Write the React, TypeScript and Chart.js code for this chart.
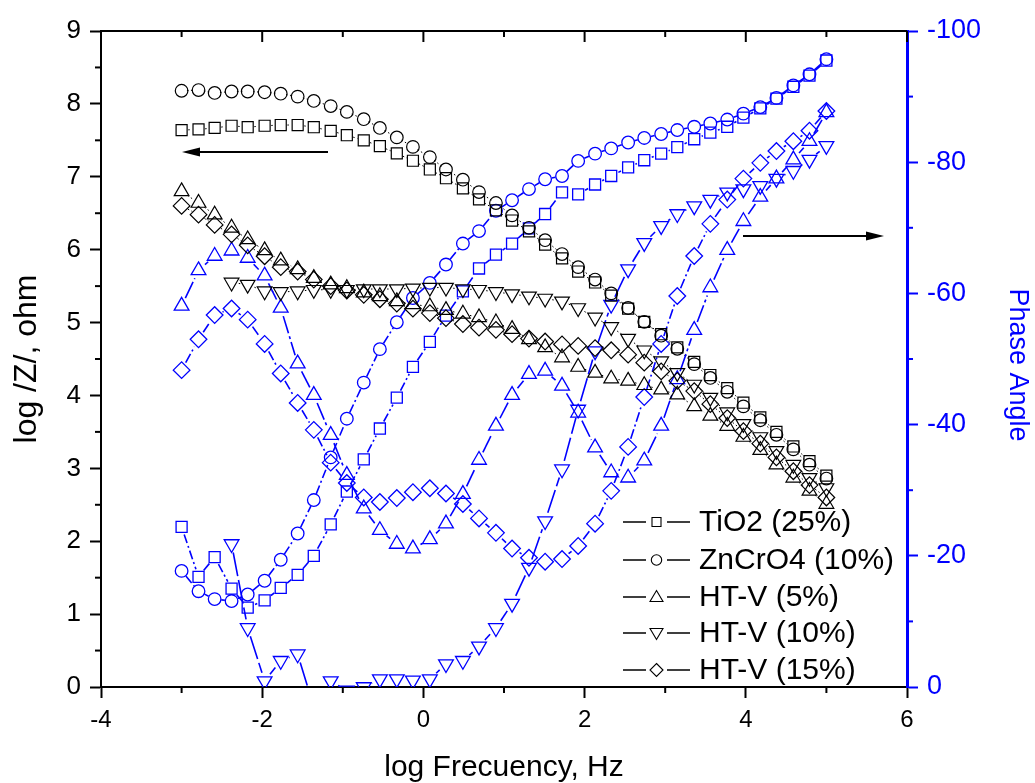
import React, { useEffect, useRef } from 'react';
import { Chart, registerables } from 'chart.js';
Chart.register(...registerables);

const FONT = 'Arial, "Liberation Sans", Helvetica, sans-serif';
const BLUE = '#0000ff';

// log frequency (decades), 40 points
const logFreq = [-3.00, -2.79, -2.59, -2.38, -2.18, -1.97, -1.77, -1.56, -1.36, -1.15,
  -0.95, -0.74, -0.54, -0.33, -0.13, 0.08, 0.28, 0.49, 0.69, 0.90,
  1.10, 1.31, 1.51, 1.72, 1.92, 2.13, 2.33, 2.54, 2.74, 2.95,
  3.15, 3.36, 3.56, 3.77, 3.97, 4.18, 4.38, 4.59, 4.79, 5.00];

// log |Z| (ohm)
const tio2Z = [7.64, 7.65, 7.67, 7.70, 7.68, 7.70, 7.71, 7.71, 7.68, 7.63,
  7.57, 7.50, 7.42, 7.32, 7.22, 7.10, 6.98, 6.84, 6.69, 6.54,
  6.40, 6.25, 6.07, 5.88, 5.70, 5.55, 5.37, 5.19, 5.01, 4.84,
  4.66, 4.46, 4.28, 4.10, 3.90, 3.70, 3.50, 3.30, 3.10, 2.90];
const zncro4Z = [8.18, 8.19, 8.15, 8.17, 8.17, 8.16, 8.14, 8.10, 8.04, 7.97,
  7.89, 7.79, 7.67, 7.54, 7.41, 7.27, 7.10, 6.96, 6.79, 6.64,
  6.47, 6.30, 6.13, 5.94, 5.76, 5.59, 5.40, 5.20, 5.01, 4.82,
  4.64, 4.43, 4.24, 4.05, 3.85, 3.66, 3.46, 3.26, 3.05, 2.86];
const htv5Z = [6.80, 6.64, 6.48, 6.30, 6.14, 5.99, 5.85, 5.73, 5.61, 5.52,
  5.47, 5.41, 5.36, 5.29, 5.25, 5.22, 5.17, 5.12, 5.07, 5.00,
  4.91, 4.77, 4.66, 4.52, 4.39, 4.31, 4.23, 4.20, 4.14, 4.08,
  4.01, 3.85, 3.72, 3.58, 3.43, 3.25, 3.05, 2.87, 2.69, 2.51];
const htv10Z = [null, null, null, 5.55, 5.52, 5.43, 5.42, 5.43, 5.45, 5.45,
  5.45, 5.46, 5.46, 5.46, 5.47, 5.48, 5.48, 5.46, 5.45, 5.42,
  5.39, 5.36, 5.33, 5.29, 5.20, 5.07, 4.94, 4.78, 4.62, 4.47,
  4.31, 4.15, 3.97, 3.77, 3.61, 3.43, 3.24, 3.05, 2.87, 2.73];
const htv15Z = [6.60, 6.48, 6.34, 6.21, 6.06, 5.91, 5.76, 5.70, 5.59, 5.50,
  5.44, 5.38, 5.32, 5.26, 5.19, 5.13, 5.06, 4.98, 4.93, 4.90,
  4.84, 4.78, 4.74, 4.70, 4.68, 4.65, 4.62, 4.56, 4.45, 4.33,
  4.20, 4.06, 3.88, 3.69, 3.51, 3.34, 3.15, 2.96, 2.77, 2.60];

// phase angle (degrees)
const tio2Phase = [-24.4, -16.8, -19.8, -15.0, -12.1, -13.2, -15.1, -17.1, -20.0, -24.8,
  -29.8, -34.7, -39.4, -44.1, -48.8, -52.6, -56.6, -60.3, -63.8, -65.9,
  -67.6, -69.9, -72.1, -75.4, -75.1, -76.6, -77.9, -79.2, -80.3, -81.3,
  -82.3, -83.5, -84.5, -85.4, -86.8, -88.2, -89.7, -91.5, -93.2, -95.5];
const zncro4Phase = [-17.7, -14.6, -13.4, -13.1, -14.1, -16.2, -19.4, -23.4, -28.5, -35.0,
  -40.9, -46.4, -51.5, -55.6, -59.3, -61.6, -64.4, -67.6, -69.5, -72.6,
  -74.2, -75.9, -77.4, -77.9, -80.2, -81.3, -82.1, -83.0, -83.7, -84.3,
  -84.9, -85.4, -85.9, -86.5, -87.4, -88.4, -89.8, -91.7, -93.4, -95.7];
const htv5Phase = [-58.1, -63.5, -65.7, -66.5, -65.4, -62.7, -57.8, -49.3, -44.5, -38.4,
  -32.3, -27.2, -23.9, -21.8, -21.1, -22.5, -24.9, -29.4, -34.6, -39.8,
  -44.5, -47.7, -48.2, -45.9, -41.8, -36.5, -32.7, -31.9, -34.5, -39.8,
  -46.9, -54.4, -60.9, -66.6, -71.0, -74.7, -77.5, -80.4, -83.2, -87.6];
const htv10Phase = [null, null, null, -21.8, -9.0, -0.9, -4.0, -5.0, 3.0, -0.9,
  0.5, 0.0, -1.2, -1.2, -1.0, -1.2, -3.5, -4.0, -6.2, -9.0,
  -12.7, -18.2, -25.3, -33.2, -42.3, -51.2, -58.3, -63.7, -67.7, -70.3,
  -72.1, -73.3, -74.3, -75.4, -75.9, -76.4, -77.5, -78.7, -80.4, -82.5];
const htv15Phase = [-48.3, -53.0, -56.7, -57.7, -56.0, -52.3, -47.8, -43.3, -39.2, -34.2,
  -31.1, -28.9, -28.2, -28.8, -29.7, -30.3, -29.5, -27.9, -25.7, -23.5,
  -21.1, -19.7, -19.1, -19.5, -21.5, -24.9, -29.9, -36.6, -44.2, -52.3,
  -59.6, -65.7, -70.6, -74.3, -77.5, -79.9, -81.7, -83.2, -84.8, -87.8];

const seriesLabels = ['TiO2 (25%)', 'ZnCrO4 (10%)', 'HT-V (5%)', 'HT-V (10%)', 'HT-V (15%)'];
const xTitle = 'log Frecuency, Hz';
const yTitle = 'log /Z/, ohm';
const y2Title = 'Phase Angle';

const markers = [
  { style: 'rect', rot: 0, r: 7.8 },
  { style: 'circle', rot: 0, r: 6.3 },
  { style: 'triangle', rot: 0, r: 8.5 },
  { style: 'triangle', rot: 180, r: 8.5 },
  { style: 'rectRot', rot: 0, r: 8.3 },
];
const blueDash = [[9, 3, 2, 3], [9, 3, 2, 3], [18, 3, 3, 3], [24, 4], [10, 3, 2, 3]];

// per-dataset connecting line styles (index = dataset index)
const lineStyles: { color: string; width: number; dash: number[]; gap: number }[] = [];

function pts(vals: (number | null)[]) {
  return logFreq.map((f, i) => ({ x: f, y: vals[i] }));
}

function drawLegendMarker(ctx: CanvasRenderingContext2D, kind: number, x: number, y: number) {
  ctx.beginPath();
  if (kind === 0) {
    ctx.rect(x - 4.5, y - 4.5, 9, 9);
  } else if (kind === 1) {
    ctx.arc(x, y, 5.2, 0, Math.PI * 2);
  } else if (kind === 2) {
    ctx.moveTo(x, y - 6.5); ctx.lineTo(x + 6.5, y + 4.5); ctx.lineTo(x - 6.5, y + 4.5); ctx.closePath();
  } else if (kind === 3) {
    ctx.moveTo(x, y + 6.5); ctx.lineTo(x + 6.5, y - 4.5); ctx.lineTo(x - 6.5, y - 4.5); ctx.closePath();
  } else {
    ctx.moveTo(x, y - 6.5); ctx.lineTo(x + 6.5, y); ctx.lineTo(x, y + 6.5); ctx.lineTo(x - 6.5, y); ctx.closePath();
  }
  ctx.stroke();
}

function arrow(ctx: CanvasRenderingContext2D, x1: number, x2: number, y: number) {
  const dir = Math.sign(x2 - x1);
  ctx.beginPath();
  ctx.moveTo(x1, y);
  ctx.lineTo(x2 - dir * 14, y);
  ctx.stroke();
  ctx.beginPath();
  ctx.moveTo(x2, y);
  ctx.lineTo(x2 - dir * 18, y - 4.5);
  ctx.lineTo(x2 - dir * 18, y + 4.5);
  ctx.closePath();
  ctx.fill();
}

// Connecting lines that stop short of the symbols (Origin style)
const gapLines = {
  id: 'gapLines',
  beforeDatasetsDraw(chart: any) {
    const ctx = chart.ctx as CanvasRenderingContext2D;
    const a = chart.chartArea;
    ctx.save();
    ctx.beginPath();
    ctx.rect(a.left, a.top, a.right - a.left, a.bottom - a.top);
    ctx.clip();
    chart.data.datasets.forEach((_ds: any, di: number) => {
      const st = lineStyles[di];
      const els = chart.getDatasetMeta(di).data;
      ctx.strokeStyle = st.color;
      ctx.lineWidth = st.width;
      ctx.setLineDash(st.dash);
      for (let i = 0; i < els.length - 1; i++) {
        const p = els[i], q = els[i + 1];
        if (p.skip || q.skip) continue;
        const dx = q.x - p.x, dy = q.y - p.y;
        const L = Math.hypot(dx, dy);
        if (L <= 2 * st.gap + 0.5) continue;
        const ux = dx / L, uy = dy / L;
        ctx.lineDashOffset = 0;
        ctx.beginPath();
        ctx.moveTo(p.x + ux * st.gap, p.y + uy * st.gap);
        ctx.lineTo(q.x - ux * st.gap, q.y - uy * st.gap);
        ctx.stroke();
      }
    });
    ctx.restore();
  },
};

const overlay = {
  id: 'overlay',
  afterDraw(chart: any) {
    const ctx = chart.ctx as CanvasRenderingContext2D;
    const { left, right, top, bottom } = chart.chartArea;
    const xs = chart.scales.x, ys = chart.scales.y, y2 = chart.scales.y2;
    ctx.save();
    ctx.setLineDash([]);
    // top frame line
    ctx.strokeStyle = '#000';
    ctx.lineWidth = 2;
    ctx.beginPath();
    ctx.moveTo(left - 1, top);
    ctx.lineTo(right, top);
    ctx.stroke();
    // top inward ticks & bottom minor ticks
    for (let v = -4; v <= 6; v++) {
      const px = xs.getPixelForValue(v);
      const major = v % 2 === 0;
      ctx.beginPath();
      ctx.moveTo(px, top);
      ctx.lineTo(px, top + (major ? 11 : 6));
      ctx.stroke();
      if (!major) {
        ctx.beginPath();
        ctx.moveTo(px, bottom);
        ctx.lineTo(px, bottom + 6);
        ctx.stroke();
      }
    }
    // left minor ticks
    for (let v = 0.5; v < 9; v += 1) {
      const py = ys.getPixelForValue(v);
      ctx.beginPath();
      ctx.moveTo(left, py);
      ctx.lineTo(left - 6, py);
      ctx.stroke();
    }
    // right minor ticks
    ctx.strokeStyle = BLUE;
    for (let v = -90; v < 0; v += 20) {
      const py = y2.getPixelForValue(v);
      ctx.beginPath();
      ctx.moveTo(right, py);
      ctx.lineTo(right + 6, py);
      ctx.stroke();
    }
    // arrows
    ctx.strokeStyle = '#000';
    ctx.fillStyle = '#000';
    ctx.lineWidth = 2;
    arrow(ctx, 328, 182, 152);
    arrow(ctx, 743, 884, 236);
    // legend
    const rows = [522, 560, 597, 633, 670];
    ctx.font = `30px ${FONT}`;
    ctx.textBaseline = 'middle';
    ctx.textAlign = 'left';
    rows.forEach((ry, i) => {
      ctx.strokeStyle = '#000';
      ctx.lineWidth = 1.5;
      ctx.beginPath();
      ctx.moveTo(623, ry); ctx.lineTo(646, ry);
      ctx.moveTo(667, ry); ctx.lineTo(690, ry);
      ctx.stroke();
      ctx.lineWidth = 1.1;
      drawLegendMarker(ctx, i, 656.5, ry);
      ctx.fillStyle = '#000';
      ctx.fillText(seriesLabels[i], 699, ry + 1);
    });
    // axis titles
    ctx.textAlign = 'center';
    ctx.textBaseline = 'middle';
    ctx.fillStyle = '#000';
    ctx.font = `30px ${FONT}`;
    ctx.fillText(xTitle, (left + right) / 2, 768);
    ctx.save();
    ctx.font = `32px ${FONT}`;
    ctx.translate(27, (top + bottom) / 2);
    ctx.rotate(-Math.PI / 2);
    ctx.fillText(yTitle, 0, 0);
    ctx.restore();
    ctx.save();
    ctx.font = `27px ${FONT}`;
    ctx.translate(1017, 365);
    ctx.rotate(Math.PI / 2);
    ctx.fillStyle = BLUE;
    ctx.fillText(y2Title, 0, 0);
    ctx.restore();
    ctx.restore();
  },
};

export default function App() {
  const ref = useRef<HTMLCanvasElement>(null);
  useEffect(() => {
    if (!ref.current) return;
    const zSets = [tio2Z, zncro4Z, htv5Z, htv10Z, htv15Z];
    const pSets = [tio2Phase, zncro4Phase, htv5Phase, htv10Phase, htv15Phase];
    const datasets: any[] = [];
    lineStyles.length = 0;
    zSets.forEach((vals, i) => {
      lineStyles.push({ color: '#000', width: 1, dash: [1.5, 2.5], gap: markers[i].r * 0.85 });
      datasets.push({
        label: seriesLabels[i] + ' |Z|',
        data: pts(vals),
        yAxisID: 'y',
        showLine: false,
        pointStyle: markers[i].style,
        rotation: markers[i].rot,
        pointRadius: markers[i].r,
        pointBorderColor: '#000',
        pointBorderWidth: 1.2,
        pointBackgroundColor: 'rgba(0,0,0,0)',
      });
    });
    pSets.forEach((vals, i) => {
      lineStyles.push({ color: BLUE, width: 1.6, dash: blueDash[i], gap: markers[i].r * 0.9 + 1 });
      datasets.push({
        label: seriesLabels[i] + ' phase',
        data: pts(vals),
        yAxisID: 'y2',
        showLine: false,
        pointStyle: markers[i].style,
        rotation: markers[i].rot,
        pointRadius: markers[i].r,
        pointBorderColor: BLUE,
        pointBorderWidth: 1.3,
        pointBackgroundColor: 'rgba(0,0,0,0)',
      });
    });
    const chart = new Chart(ref.current, {
      type: 'line',
      data: { datasets },
      options: {
        responsive: false,
        animation: false,
        devicePixelRatio: 1,
        layout: { padding: { top: 31, left: 0, right: 0, bottom: 0 } },
        plugins: { legend: { display: false }, tooltip: { enabled: false } },
        scales: {
          x: {
            type: 'linear',
            position: 'bottom',
            min: -4,
            max: 6,
            ticks: { stepSize: 2, color: '#000', font: { family: FONT, size: 24 }, padding: 8, maxRotation: 0 },
            grid: { drawOnChartArea: false, drawTicks: true, tickLength: 11, tickWidth: 2, color: '#000' },
            border: { color: '#000', width: 2 },
            afterFit: (s: any) => { s.height = 96; },
          },
          y: {
            type: 'linear',
            position: 'left',
            min: 0,
            max: 9,
            ticks: { stepSize: 1, color: '#000', font: { family: FONT, size: 26 }, padding: 9 },
            grid: { drawOnChartArea: false, drawTicks: true, tickLength: 11, tickWidth: 2, color: '#000' },
            border: { color: '#000', width: 2 },
            afterFit: (s: any) => { s.width = 101; },
          },
          y2: {
            type: 'linear',
            position: 'right',
            min: -100,
            max: 0,
            reverse: true,
            ticks: { stepSize: 20, color: BLUE, font: { family: FONT, size: 27 }, padding: 9 },
            grid: { drawOnChartArea: false, drawTicks: true, tickLength: 11, tickWidth: 2, color: BLUE },
            border: { color: BLUE, width: 3 },
            afterFit: (s: any) => { s.width = 128; },
          },
        },
      },
      plugins: [gapLines, overlay],
    });
    return () => chart.destroy();
  }, []);
  return (
    <div style={{ position: 'absolute', left: 0, top: 0, width: 1035, height: 783, background: '#fff' }}>
      <canvas ref={ref} width={1035} height={783} />
    </div>
  );
}
